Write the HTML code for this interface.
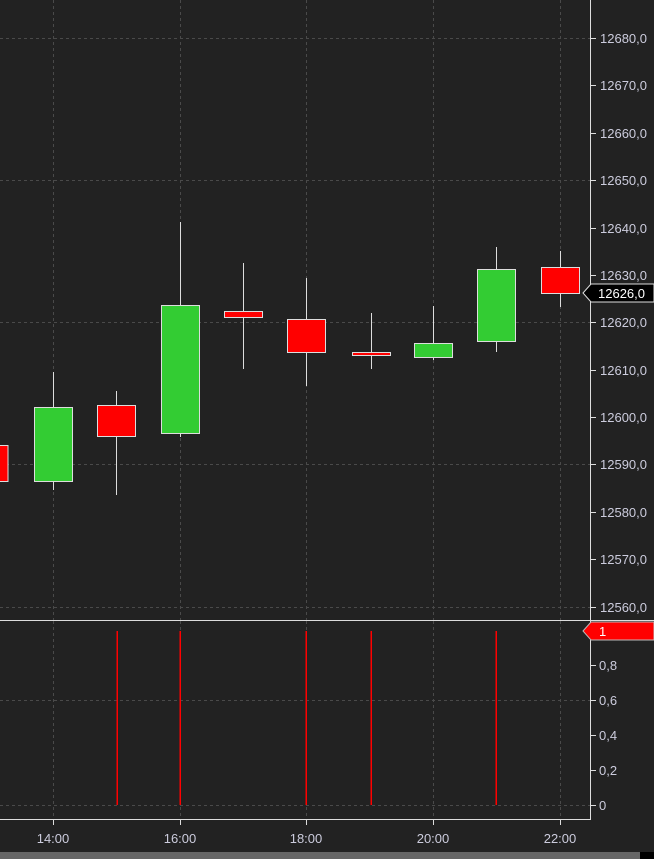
<!DOCTYPE html>
<html><head><style>html,body{margin:0;padding:0;background:#222;}svg{display:block;}</style></head>
<body>
<svg width="654" height="859" viewBox="0 0 654 859" xmlns="http://www.w3.org/2000/svg" font-family="Liberation Sans, sans-serif">
<rect width="654" height="859" fill="#222"/>
<g stroke="#4a4a4a" stroke-dasharray="3,3" stroke-width="1">
<line x1="0" y1="38.5" x2="590" y2="38.5"/><line x1="0" y1="180.5" x2="590" y2="180.5"/><line x1="0" y1="322.5" x2="590" y2="322.5"/><line x1="0" y1="464.5" x2="590" y2="464.5"/><line x1="0" y1="607.5" x2="590" y2="607.5"/>
<line x1="53.5" y1="0" x2="53.5" y2="620"/><line x1="180.5" y1="0" x2="180.5" y2="620"/><line x1="306.5" y1="0" x2="306.5" y2="620"/><line x1="433.5" y1="0" x2="433.5" y2="620"/><line x1="560.5" y1="0" x2="560.5" y2="620"/>
<line x1="0" y1="700.5" x2="590" y2="700.5"/><line x1="0" y1="805.5" x2="590" y2="805.5"/>
<line x1="53.5" y1="621" x2="53.5" y2="819"/><line x1="180.5" y1="621" x2="180.5" y2="819"/><line x1="306.5" y1="621" x2="306.5" y2="819"/><line x1="433.5" y1="621" x2="433.5" y2="819"/><line x1="560.5" y1="621" x2="560.5" y2="819"/>
</g>
<g stroke="#ddd" stroke-width="1">
<line x1="53.5" y1="372" x2="53.5" y2="490"/><line x1="116.5" y1="391" x2="116.5" y2="495"/><line x1="180.5" y1="222" x2="180.5" y2="437"/><line x1="243.5" y1="263" x2="243.5" y2="369"/><line x1="306.5" y1="278" x2="306.5" y2="386"/><line x1="371.5" y1="313" x2="371.5" y2="369"/><line x1="433.5" y1="306" x2="433.5" y2="360"/><line x1="496.5" y1="247" x2="496.5" y2="352"/><line x1="560.5" y1="251" x2="560.5" y2="307"/>
</g>
<g stroke="#ddd" stroke-width="1">
<rect x="-10" y="445.5" width="18" height="36" fill="#ff0000"/>
<rect x="34.5" y="407.5" width="38" height="74" fill="#33cc33"/>
<rect x="97.5" y="405.5" width="38" height="31" fill="#ff0000"/>
<rect x="161.5" y="305.5" width="38" height="128" fill="#33cc33"/>
<rect x="224.5" y="311.5" width="38" height="6" fill="#ff0000"/>
<rect x="287.5" y="319.5" width="38" height="33" fill="#ff0000"/>
<rect x="352.5" y="352.5" width="38" height="3" fill="#ff0000"/>
<rect x="414.5" y="343.5" width="38" height="14" fill="#33cc33"/>
<rect x="477.5" y="269.5" width="38" height="72" fill="#33cc33"/>
<rect x="541.5" y="267.5" width="38" height="26" fill="#ff0000"/>
</g>
<g fill="#ff0000">
<rect x="116.5" y="631" width="1.5" height="174"/><rect x="179.5" y="631" width="1.5" height="174"/><rect x="305.5" y="631" width="1.5" height="174"/><rect x="370.5" y="631" width="1.5" height="174"/><rect x="495.5" y="631" width="1.5" height="174"/>
</g>
<line x1="0" y1="620.5" x2="654" y2="620.5" stroke="#ddd"/>
<line x1="590.5" y1="0" x2="590.5" y2="819" stroke="#ddd"/>
<line x1="0" y1="819.5" x2="591" y2="819.5" stroke="#ddd"/>
<g fill="#ccd" font-size="13">
<g stroke="#ddd"><line x1="590" y1="38.5" x2="596" y2="38.5"/><line x1="590" y1="85.5" x2="596" y2="85.5"/><line x1="590" y1="133.5" x2="596" y2="133.5"/><line x1="590" y1="180.5" x2="596" y2="180.5"/><line x1="590" y1="228.5" x2="596" y2="228.5"/><line x1="590" y1="275.5" x2="596" y2="275.5"/><line x1="590" y1="322.5" x2="596" y2="322.5"/><line x1="590" y1="370.5" x2="596" y2="370.5"/><line x1="590" y1="417.5" x2="596" y2="417.5"/><line x1="590" y1="464.5" x2="596" y2="464.5"/><line x1="590" y1="512.5" x2="596" y2="512.5"/><line x1="590" y1="559.5" x2="596" y2="559.5"/><line x1="590" y1="607.5" x2="596" y2="607.5"/>
<line x1="590" y1="665.5" x2="596" y2="665.5"/><line x1="590" y1="700.5" x2="596" y2="700.5"/><line x1="590" y1="735.5" x2="596" y2="735.5"/><line x1="590" y1="770.5" x2="596" y2="770.5"/><line x1="590" y1="805.5" x2="596" y2="805.5"/>
<line x1="53.5" y1="819" x2="53.5" y2="825"/><line x1="180.5" y1="819" x2="180.5" y2="825"/><line x1="306.5" y1="819" x2="306.5" y2="825"/><line x1="433.5" y1="819" x2="433.5" y2="825"/><line x1="560.5" y1="819" x2="560.5" y2="825"/></g>
<text x="600" y="43">12680,0</text><text x="600" y="90">12670,0</text><text x="600" y="138">12660,0</text><text x="600" y="185">12650,0</text><text x="600" y="233">12640,0</text><text x="600" y="280">12630,0</text><text x="600" y="327">12620,0</text><text x="600" y="375">12610,0</text><text x="600" y="422">12600,0</text><text x="600" y="469">12590,0</text><text x="600" y="517">12580,0</text><text x="600" y="564">12570,0</text><text x="600" y="612">12560,0</text>
<text x="599" y="670">0,8</text><text x="599" y="705">0,6</text><text x="599" y="740">0,4</text><text x="599" y="775">0,2</text><text x="599" y="810">0</text>
<g text-anchor="middle"><text x="53" y="843">14:00</text><text x="180" y="843">16:00</text><text x="306" y="843">18:00</text><text x="433" y="843">20:00</text><text x="560" y="843">22:00</text></g>
</g>
<polygon points="583,293 591,284 654,284 654,302 591,302" fill="#000" stroke="#ddd"/>
<text x="598" y="298" fill="#fff" font-size="13">12626,0</text>
<polygon points="583,631 591,622 654,622 654,640 591,640" fill="#ff0000" stroke="#bbb"/>
<text x="599" y="636" fill="#fff" font-size="13">1</text>
<rect x="0" y="852" width="640" height="7" fill="#666"/>
<rect x="640" y="852" width="14" height="7" fill="#000"/>
</svg>
</body></html>
